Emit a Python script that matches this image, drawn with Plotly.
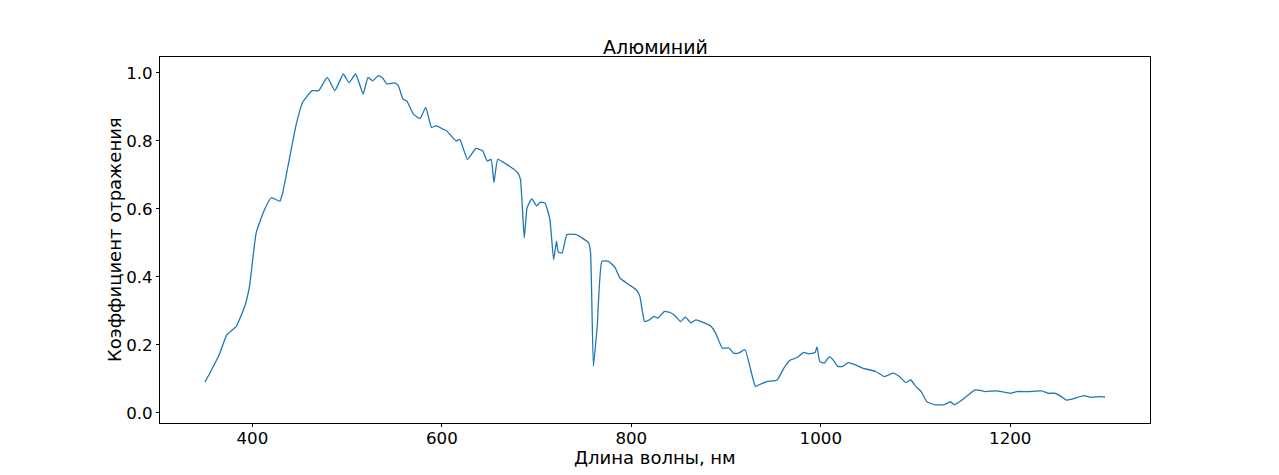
import plotly.graph_objects as go

wavelength = [350, 357, 365, 373, 383, 392, 397, 404, 413, 420, 429, 432, 439, 446, 453, 463, 470,
              479, 487, 496, 502, 509, 517, 522, 527, 533, 537, 542, 550, 554, 559, 563, 570, 577,
              583, 589, 594, 601, 605, 615, 619, 627, 636, 643, 648, 652, 655, 659, 668, 680, 683,
              687, 690, 695, 700, 704, 709, 714, 718, 721, 723, 727, 732, 741, 748, 755, 757, 760,
              764, 769, 776, 783, 788, 797, 805, 809, 814, 819, 824, 828, 835, 842, 847, 852, 857,
              863, 868, 877, 884, 889, 896, 903, 908, 913, 920, 926, 931, 935, 943, 954, 961, 968,
              975, 982, 987, 994, 996, 999, 1004, 1009, 1013, 1018, 1023, 1029, 1036, 1044, 1058,
              1067, 1076, 1083, 1090, 1095, 1100, 1106, 1112, 1121, 1130, 1137, 1141, 1149, 1163,
              1174, 1184, 1191, 1200, 1207, 1219, 1233, 1240, 1247, 1254, 1259, 1264, 1271, 1278,
              1285, 1294, 1300]
reflectance = [0.091, 0.127, 0.171, 0.230, 0.255, 0.314, 0.373, 0.530, 0.599, 0.633, 0.623, 0.648,
               0.746, 0.845, 0.913, 0.948, 0.948, 0.987, 0.948, 0.997, 0.972, 0.997, 0.938, 0.987,
               0.977, 0.992, 0.987, 0.968, 0.971, 0.963, 0.923, 0.918, 0.879, 0.866, 0.899, 0.840,
               0.845, 0.835, 0.830, 0.800, 0.805, 0.746, 0.778, 0.771, 0.741, 0.746, 0.678, 0.746,
               0.732, 0.707, 0.687, 0.515, 0.604, 0.630, 0.609, 0.620, 0.617, 0.570, 0.451, 0.505,
               0.473, 0.471, 0.525, 0.525, 0.515, 0.500, 0.471, 0.137, 0.255, 0.446, 0.446, 0.427,
               0.397, 0.378, 0.363, 0.343, 0.269, 0.274, 0.284, 0.279, 0.299, 0.294, 0.284, 0.269,
               0.282, 0.265, 0.274, 0.265, 0.255, 0.235, 0.191, 0.191, 0.176, 0.176, 0.186, 0.127,
               0.078, 0.083, 0.092, 0.097, 0.132, 0.156, 0.163, 0.178, 0.174, 0.178, 0.194, 0.151,
               0.147, 0.166, 0.156, 0.137, 0.137, 0.148, 0.142, 0.132, 0.122, 0.107, 0.117, 0.107,
               0.089, 0.097, 0.079, 0.063, 0.033, 0.024, 0.024, 0.033, 0.024, 0.038, 0.068, 0.063,
               0.065, 0.063, 0.058, 0.063, 0.063, 0.065, 0.058, 0.058, 0.048, 0.038, 0.040, 0.046,
               0.051, 0.046, 0.048, 0.047]

x_ticks = [400, 600, 800, 1000, 1200]
y_ticks = [0.0, 0.2, 0.4, 0.6, 0.8, 1.0]
y_tick_labels = ["0.0", "0.2", "0.4", "0.6", "0.8", "1.0"]

title_text = "Алюминий"
x_title = "Длина волны, нм"
y_title = "Коэффициент отражения"

tick_font = dict(family="DejaVu Sans", size=16.67, color="black")
label_font = dict(family="DejaVu Sans", size=18, color="black")
title_font = dict(family="DejaVu Sans", size=19, color="black")

fig = go.Figure(go.Scatter(x=wavelength, y=reflectance, mode="lines",
                           line=dict(color="#1f77b4", width=1.3, shape="spline", smoothing=0.4)))

L, R, T, B = 160, 129, 57, 52
W, H = 1279, 475
pw, ph = W - L - R, H - T - B

fig.update_layout(
    width=W, height=H,
    margin=dict(l=L, r=R, t=T, b=B, autoexpand=False),
    paper_bgcolor="white", plot_bgcolor="white",
    font=tick_font,
    showlegend=False,
    annotations=[
        dict(text=title_text, xref="paper", yref="paper", x=0.5, y=(H - B - 47) / ph,
             xanchor="center", yanchor="middle", showarrow=False, font=title_font),
        dict(text=x_title, xref="paper", yref="paper", x=0.5, y=(H - B - 457) / ph,
             xanchor="center", yanchor="middle", showarrow=False, font=label_font),
        dict(text=y_title, xref="paper", yref="paper", x=(114 - L) / pw, y=0.5,
             xanchor="center", yanchor="middle", textangle=-90, showarrow=False, font=label_font),
    ],
)
fig.update_xaxes(
    range=[302.5, 1347.5], tickvals=x_ticks, ticks="outside", ticklen=3, tickcolor="black",
    showline=True, linecolor="black", linewidth=1, mirror=True, showgrid=False, zeroline=False,
    tickfont=tick_font, automargin=False, ticklabelstandoff=-3,
)
fig.update_yaxes(
    range=[-0.0295, 1.047], tickvals=y_ticks, ticktext=y_tick_labels, ticks="outside", ticklen=3,
    tickcolor="black", showline=True, linecolor="black", linewidth=1, mirror=True,
    showgrid=False, zeroline=False, tickfont=tick_font, automargin=False,
)

fig.write_html("out.html", config={"displayModeBar": False},
               post_script="document.body.style.margin='0';")
